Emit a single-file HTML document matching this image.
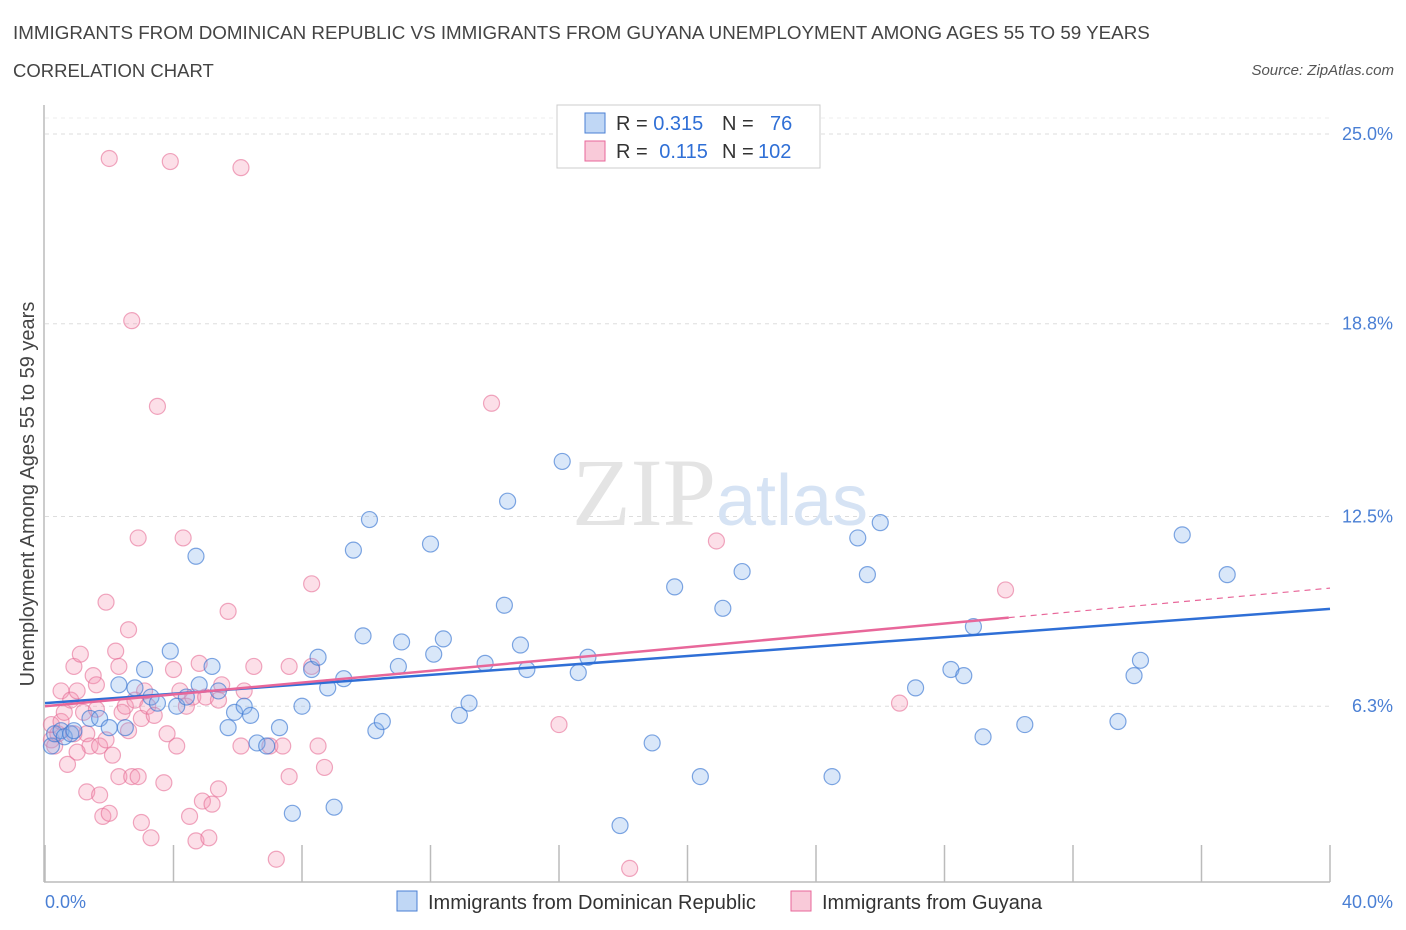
<!DOCTYPE html>
<html><head><meta charset="utf-8"><style>
body{margin:0;background:#fff;font-family:"Liberation Sans",sans-serif;}
#w{position:relative;width:1406px;height:930px;overflow:hidden}
.t{position:absolute;white-space:nowrap}
</style></head><body><div id="w">
<div class="t" style="left:13px;top:22px;font-size:18.8px;color:#444">IMMIGRANTS FROM DOMINICAN REPUBLIC VS IMMIGRANTS FROM GUYANA UNEMPLOYMENT AMONG AGES 55 TO 59 YEARS</div>
<div class="t" style="left:13px;top:60px;font-size:18.5px;color:#444">CORRELATION CHART</div>
<div class="t" style="right:12px;top:62px;font-size:15px;color:#555;font-style:italic">Source: ZipAtlas.com</div>
<svg id="s" width="1406" height="930" style="position:absolute;left:0;top:0"></svg>
</div>
<script>
const blueX=[0.2,0.3,0.5,0.6,0.8,0.9,1.4,1.7,2.0,2.3,2.5,2.8,3.1,3.3,3.5,3.9,4.1,4.4,4.7,4.8,5.2,5.4,5.7,5.9,6.2,6.4,6.6,6.9,7.3,7.7,8.0,8.3,8.5,8.8,9.0,9.3,9.6,9.9,10.1,10.3,10.5,11.0,11.1,12.0,12.1,12.4,12.9,13.2,13.7,14.3,14.4,14.8,15.0,16.1,16.6,16.9,17.9,18.9,19.6,20.4,21.1,21.7,24.5,25.3,25.6,26.0,27.1,28.2,28.6,28.9,29.2,30.5,33.4,33.9,34.1,35.4,36.8];
const blueY=[5.0,5.4,5.5,5.3,5.4,5.5,5.9,5.9,5.6,7.0,5.6,6.9,7.5,6.6,6.4,8.1,6.3,6.6,11.2,7.0,7.6,6.8,5.6,6.1,6.3,6.0,5.1,5.0,5.6,2.8,6.3,7.5,7.9,6.9,3.0,7.2,11.4,8.6,12.4,5.5,5.8,7.6,8.4,11.6,8.0,8.5,6.0,6.4,7.7,9.6,13.0,8.3,7.5,14.3,7.4,7.9,2.4,5.1,10.2,4.0,9.5,10.7,4.0,11.8,10.6,12.3,6.9,7.5,7.3,8.9,5.3,5.7,5.8,7.3,7.8,11.9,10.6];
const pinkX=[0.2,0.2,0.3,0.4,0.5,0.5,0.6,0.7,0.8,0.9,0.9,1.0,1.1,1.2,1.3,1.3,1.4,1.5,1.6,1.7,1.7,1.8,1.9,1.9,2.0,2.0,2.1,2.2,2.3,2.3,2.4,2.5,2.6,2.7,2.7,2.8,2.9,2.9,3.0,3.0,3.1,3.2,3.3,3.4,3.5,3.7,3.8,3.9,4.0,4.1,4.2,4.3,4.4,4.5,4.6,4.7,4.8,4.9,5.0,5.1,5.2,5.4,5.4,5.5,5.7,6.1,6.1,6.2,6.5,7.0,7.2,7.4,7.6,7.6,8.3,8.3,8.5,8.7,13.9,16.0,18.2,20.9,26.6,29.9,1.0,1.6,2.6];
const pinkY=[5.2,5.7,5.0,5.4,5.8,6.8,6.1,4.4,6.5,5.4,7.6,6.8,8.0,6.1,5.4,3.5,5.0,7.3,7.0,5.0,3.4,2.7,5.2,9.7,24.2,2.8,4.7,8.1,7.6,4.0,6.1,6.3,8.8,4.0,18.9,6.5,4.0,11.8,2.5,5.9,6.8,6.3,2.0,6.0,16.1,3.8,5.4,24.1,7.5,5.0,6.8,11.8,6.3,2.7,6.6,1.9,7.7,3.2,6.6,2.0,3.1,3.6,6.5,7.0,9.4,23.9,5.0,6.8,7.6,5.0,1.3,5.0,4.0,7.6,10.3,7.6,5.0,4.3,16.2,5.7,1.0,11.7,6.4,10.1,4.8,6.2,5.5];
const yTicks=[25.0,18.8,12.5,6.3];
const yTickLabels=["25.0%","18.8%","12.5%","6.3%"];
const blueTrend=[6.4,9.48];
const pinkTrend=[6.3,10.16];
const X=v=>45+v/40*1285, Y=v=>899-v*30.6;
const s=document.getElementById('s'),NS='http://www.w3.org/2000/svg';
function el(t,a,txt){const e=document.createElementNS(NS,t);for(const k in a)e.setAttribute(k,a[k]);if(txt!=null)e.textContent=txt;s.appendChild(e);return e;}
yTicks.forEach((v,i)=>{
 const g=el('line',{x1:45,x2:1330,y1:Y(v),y2:Y(v),stroke:'#ddd','stroke-dasharray':'4,4'});
 
 
 const t=el('text',{x:1393,y:Y(v)+6,'text-anchor':'end','font-size':18,fill:'#4a7fd4'},yTickLabels[i]);
 
 
});
const tg=el('line',{x1:45,x2:1330,y1:118,y2:118,stroke:'#eee','stroke-dasharray':'4,4'});


for(let i=0;i<=10;i++){const l=el('line',{x1:X(i*4),x2:X(i*4),y1:845,y2:882,stroke:'#bbb','stroke-width':1.5});
 
 }
const ax=el('line',{x1:44,x2:1330,y1:882,y2:882,stroke:'#bbb','stroke-width':1.5});


const ay=el('line',{x1:44,x2:44,y1:105,y2:882,stroke:'#bbb','stroke-width':1.5});


const wm=el('text',{x:720,y:525,'text-anchor':'middle','font-size':96,fill:'#e4e4e4','font-family':'Liberation Serif'},'ZIP');


wm.innerHTML='ZIP<tspan fill="#d6e3f4" font-family="Liberation Sans" font-size="72">atlas</tspan>';
pinkX.forEach((x,i)=>{const c=el('circle',{cx:X(x),cy:Y(pinkY[i]),r:8,fill:'rgba(244,150,180,0.3)',stroke:'rgba(230,110,150,0.6)','stroke-width':1.2});
 
 });
blueX.forEach((x,i)=>{const c=el('circle',{cx:X(x),cy:Y(blueY[i]),r:8,fill:'rgba(130,175,235,0.3)',stroke:'rgba(60,120,210,0.65)','stroke-width':1.2});
 
 });
const bl=el('line',{x1:X(0),y1:Y(blueTrend[0]),x2:X(40),y2:Y(blueTrend[1]),stroke:'#2f6fd6','stroke-width':2.5});


const pf=(x)=>pinkTrend[0]+(pinkTrend[1]-pinkTrend[0])*x/40;
const pl=el('line',{x1:X(0),y1:Y(pf(0)),x2:X(30),y2:Y(pf(30)),stroke:'#e8679a','stroke-width':2.5});


const pd=el('line',{x1:X(30),y1:Y(pf(30)),x2:X(40),y2:Y(pf(40)),stroke:'#e8679a','stroke-width':1.2,'stroke-dasharray':'6,5'});


const yt=el('text',{x:34,y:494,'text-anchor':'middle','font-size':20,fill:'#444',transform:'rotate(-90 34 494)'},'Unemployment Among Ages 55 to 59 years');


const x0=el('text',{x:45,y:908,'font-size':18,fill:'#4a7fd4'},'0.0%');


const x1=el('text',{x:1393,y:908,'text-anchor':'end','font-size':18,fill:'#4a7fd4'},'40.0%');


const lb=el('rect',{x:557,y:105,width:263,height:63,fill:'#fff',stroke:'#ccc'});


[[ 'R = ','0.315','76','rgba(130,175,235,0.5)','#4a7fd4',123],['R = ',' 0.115','102','rgba(244,150,180,0.5)','#e8679a',151]].forEach((r,i)=>{
 const sw=el('rect',{x:585,y:r[5]-10,width:20,height:20,fill:r[3],stroke:r[4]});
 
 
 const t=el('text',{x:616,y:r[5]+7,'font-size':20,fill:'#333'});
 
 
 t.innerHTML=`R = <tspan fill="#2f6fd6">${r[1].trim()}</tspan>`;
 if(i==1)t.setAttribute('x',616),t.innerHTML=`R =  <tspan fill="#2f6fd6" dx="6">${r[1].trim()}</tspan>`;
 const n=el('text',{x:722,y:r[5]+7,'font-size':20,fill:'#333'});
 
 
 n.innerHTML=`N = <tspan fill="#2f6fd6" x="${i==0?770:758}">${r[2]}</tspan>`;
});
[['Immigrants from Dominican Republic',397,'rgba(130,175,235,0.5)','#4a7fd4'],['Immigrants from Guyana',791,'rgba(244,150,180,0.5)','#e8679a']].forEach(r=>{
 const sw=el('rect',{x:r[1],y:891,width:20,height:20,fill:r[2],stroke:r[3]});
 
 
 const t=el('text',{x:r[1]+31,y:909,'font-size':20,fill:'#333'},r[0]);
 
 
});
</script></body></html>
